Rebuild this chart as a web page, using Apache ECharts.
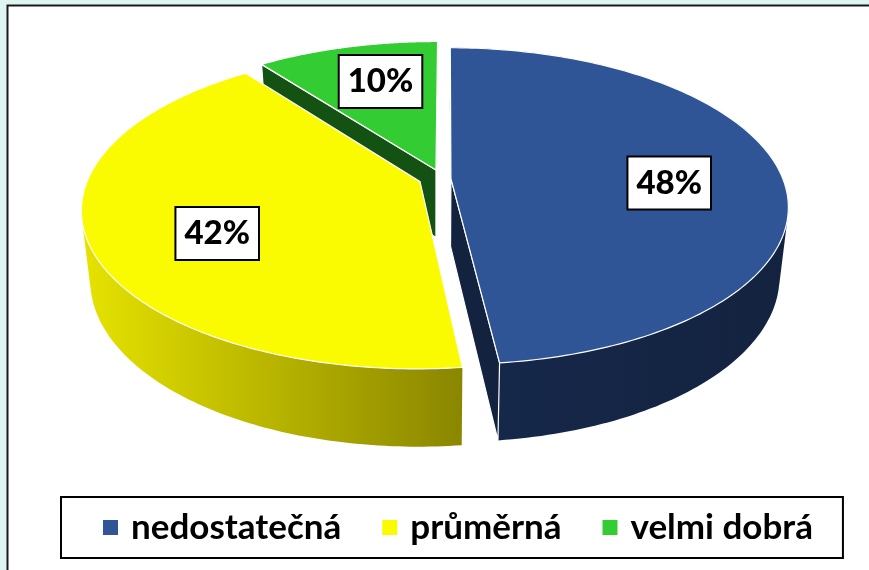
<!DOCTYPE html>
<html><head><meta charset="utf-8">
<style>html,body{margin:0;padding:0;background:#dff5f1}#c{width:869px;height:570px}</style>
<script src="https://cdn.jsdelivr.net/npm/echarts@6/dist/echarts.min.js"></script>
</head><body><div id="c"></div>
<script>
const categories = ['nedostatečná', 'průměrná', 'velmi dobrá'];
const shares = [48.1, 41.5, 10.4];
const sliceColors = ['#2f5597', '#fafa00', '#33cc33'];

// view of the tilted disc
const view = {x0: 435, y0: 179, A: 332, B: 153.7, k: 0.1736, depth: 68, shrink: 0.975, startAngle: 0.35};
// slice explosion in disc units and label placement
const explode = [[0.048, -0.003], [-0.045, 0.017], [0.003, -0.059]];
const labelAt = [[0.655, 92.5], [0.655, 241], [0.68, 344]];
const font = 'Lato';

const total = shares.reduce((a, b) => a + b, 0);
const starts = shares.map((_, i) => view.startAngle + shares.slice(0, i).reduce((a, b) => a + b, 0) / total * 360);

function proj(u, v) {
  const d = 1 - view.k * v;
  return [view.x0 + view.A * u / d, view.y0 + view.B * v / d];
}
function projLow(u, v) {
  const d = 1 - view.k * v;
  return [view.x0 + view.shrink * view.A * u / d, view.y0 + view.shrink * view.B * v / d + view.depth / d];
}
function disc(i, deg, r) {
  const t = deg * Math.PI / 180;
  return [explode[i][0] + r * Math.sin(t), explode[i][1] - r * Math.cos(t)];
}
function hull(pts) {
  const s = pts.slice().sort((a, b) => a[0] - b[0] || a[1] - b[1]);
  const cross = (o, a, b) => (a[0] - o[0]) * (b[1] - o[1]) - (a[1] - o[1]) * (b[0] - o[0]);
  const half = list => {
    const h = [];
    for (const p of list) {
      while (h.length > 1 && cross(h[h.length - 2], h[h.length - 1], p) <= 0) h.pop();
      h.push(p);
    }
    h.pop();
    return h;
  };
  return half(s).concat(half(s.slice().reverse()));
}
const edge = {stroke: '#fff', lineWidth: 1.2};

function sliceShapes(i, value) {
  const a0 = starts[i], a1 = a0 + value / total * 360;
  const top = [], low = [];
  for (let a = a0; a <= a1 + 1e-6; a += (a1 - a0) / 160) {
    const p = disc(i, a, 1);
    top.push(proj(p[0], p[1]));
    low.push(projLow(p[0], p[1]));
  }
  const c = disc(i, 0, 0);
  const apex = proj(c[0], c[1]), apexLow = projLow(c[0], c[1]);
  const faces = [];
  const poly = (points, style) => ({type: 'polygon', shape: {points}, style});
  if (i === 0) {
    faces.push(poly(hull(top.concat(low)), {
      fill: new echarts.graphic.LinearGradient(0, 0, 1, 0, [{offset: 0, color: '#16284c'}, {offset: 1, color: '#13233f'}])}));
    faces.push(poly([apex, top[top.length - 1], low[low.length - 1], apexLow], Object.assign({fill: '#13233f'}, edge)));
  }
  if (i === 1) {
    faces.push(poly(hull(top.concat(low)), {
      fill: new echarts.graphic.LinearGradient(1, 0, 0, 0, [{offset: 0, color: '#8a8600'}, {offset: 0.5, color: '#b8b400'}, {offset: 1, color: '#e6e300'}])}));
  }
  if (i === 2) {
    faces.push(poly([apex, top[0], low[0], apexLow], Object.assign({fill: '#145214'}, edge)));
  }
  faces.push(poly([apex].concat(top), {fill: sliceColors[i], stroke: '#fff', lineWidth: 1.2, lineJoin: 'round'}));
  return faces;
}

function labelEl(i, value) {
  const p = disc(i, labelAt[i][1], labelAt[i][0]);
  const xy = proj(p[0], p[1]);
  return {
    type: 'text', x: xy[0], y: xy[1], z2: 100,
    style: {
      text: Math.round(value) + '%', align: 'center', verticalAlign: 'middle',
      fontFamily: font, fontSize: 33, fontWeight: 900, fill: '#000',
      backgroundColor: '#fff', borderColor: '#000', borderWidth: 2,
      padding: [9, 8, 9, 8]
    }
  };
}

const chart = echarts.init(document.getElementById('c'), null, {renderer: 'canvas'});
const drawOrder = [2, 1, 0];
chart.setOption({
  animation: false,
  backgroundColor: 'transparent',
  graphic: [{type: 'rect', z: -10, silent: true,
    shape: {x: 7.5, y: 5.5, width: 900, height: 600},
    style: {fill: '#fff', stroke: '#1a1a1a', lineWidth: 2}}],
  legend: {
    left: 61, top: 497, selectedMode: false, icon: 'rect',
    data: categories,
    itemWidth: 15, itemHeight: 15, itemGap: 41,
    padding: [13, 30, 13, 42],
    backgroundColor: '#fff', borderColor: '#000', borderWidth: 2,
    textStyle: {fontFamily: font, fontSize: 35, fontWeight: 'bold', color: '#000', padding: [0, 0, 0, 8], lineHeight: 34}
  },
  series: drawOrder.map(i => ({
    type: 'custom', name: categories[i], coordinateSystem: 'none',
    silent: true, itemStyle: {color: sliceColors[i]},
    data: [[shares[i]]],
    renderItem: (params, api) => ({type: 'group', children: sliceShapes(i, api.value(0))})
  })).concat(drawOrder.map(i => ({
    type: 'custom', name: categories[i] + ' popisek', coordinateSystem: 'none', silent: true, z: 5,
    data: [[shares[i]]],
    renderItem: (params, api) => labelEl(i, api.value(0))
  })))
});
</script></body></html>
